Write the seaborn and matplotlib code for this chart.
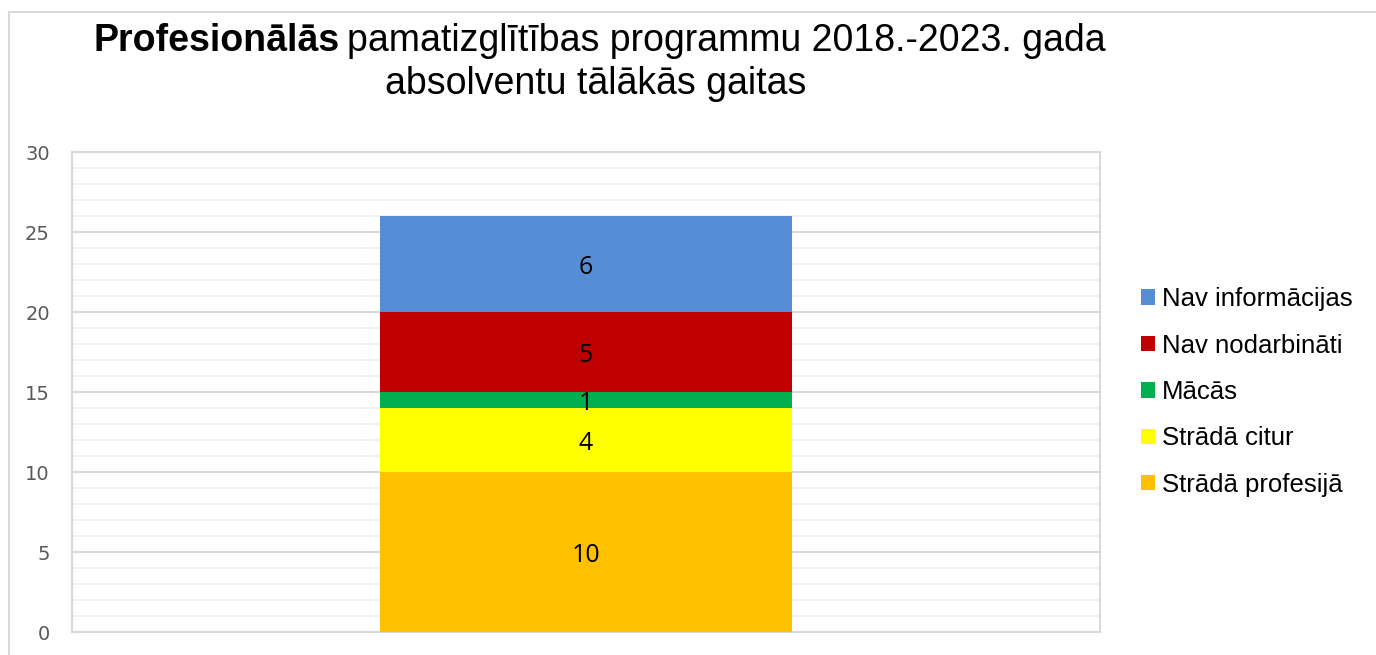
import matplotlib
matplotlib.use('Agg')
import matplotlib.pyplot as plt
import seaborn as sns
import pandas as pd
import numpy as np
from matplotlib.patches import Patch, Rectangle
from matplotlib.ticker import MultipleLocator

# data (bottom -> top)
categories = ['Strādā profesijā', 'Strādā citur', 'Mācās', 'Nav nodarbināti', 'Nav informācijas']
values = [10, 4, 1, 5, 6]
colors = ['#FFC000', '#FFFF00', '#00B050', '#C00000', '#558ED5']

sns.set_style('white')
plt.rcParams['font.family'] = ['Liberation Sans', 'DejaVu Sans']
plt.rcParams['text.color'] = 'black'

fig = plt.figure(figsize=(13.76, 6.55), dpi=100)
ax = fig.add_axes([72 / 1376, 23 / 655, 1028 / 1376, 480 / 655])

# outer chart frame
fig.patches.append(Rectangle((9 / 1376, -0.1), 1.2, (643 / 655) + 0.1, transform=fig.transFigure,
                             fill=False, edgecolor='#d9d9d9', linewidth=1.5))

# stacked bar: draw cumulative totals from the top down so each segment covers the one above it
cum = np.cumsum(values)
df = pd.DataFrame({'grp': ['a'] * len(values), 'top': cum, 'cat': categories})
for i in range(len(values) - 1, -1, -1):
    sns.barplot(data=df.iloc[[i]], x='grp', y='top', color=colors[i], width=0.4,
                saturation=1, ax=ax, zorder=3, edgecolor='none')

bottoms = cum - np.array(values)
for v, b in zip(values, bottoms):
    ax.text(0, b + v / 2 - 0.25, str(v), ha='center', va='center', fontsize=18,
            family=['Open Sans', 'DejaVu Sans'], color='black', zorder=4)

ax.set_xlim(-0.5, 0.5)
ax.set_ylim(0, 30)
ax.yaxis.set_major_locator(MultipleLocator(5))
ax.yaxis.set_minor_locator(MultipleLocator(1))
ax.grid(which='major', axis='y', color='#d9d9d9', linewidth=1.5, zorder=0)
ax.grid(which='minor', axis='y', color='#f0f0f0', linewidth=1.2, zorder=0)
ax.set_axisbelow(True)
for s in ax.spines.values():
    s.set_color('#d9d9d9')
    s.set_linewidth(1.5)
ax.set_xticks([])
ax.set_xlabel('')
ax.set_ylabel('')
ax.tick_params(axis='y', which='both', length=0, pad=16, labelsize=14, labelcolor='#595959')
for lab in ax.get_yticklabels():
    lab.set_family(['DejaVu Sans'])

# legend, top entry first
handles = [Patch(facecolor=colors[i], edgecolor='none', label=categories[i])
           for i in range(len(values) - 1, -1, -1)]
fig.legend(handles=handles, loc='center left', bbox_to_anchor=(1141 / 1376, 1 - 392 / 655),
           frameon=False, fontsize=18.5, handlelength=0.55, handleheight=0.55,
           handletextpad=0.25, labelspacing=0.87, borderaxespad=0, borderpad=0,
           labelcolor='black')

# title with bold first word
t1 = fig.text(93 / 1376, 1 - 51 / 655, 'Profesionālās', fontsize=27, fontweight='bold',
              ha='left', va='baseline')
fig.canvas.draw()
bb = t1.get_window_extent()
fig.text(bb.x1 / fig.bbox.width + 8 / 1376, 1 - 51 / 655,
         'pamatizglītības programmu 2018.-2023. gada', fontsize=27, ha='left', va='baseline')
fig.text(596 / 1376, 1 - 94 / 655, 'absolventu tālākās gaitas', fontsize=27,
         ha='center', va='baseline')

fig.savefig('out.png', dpi=100)
